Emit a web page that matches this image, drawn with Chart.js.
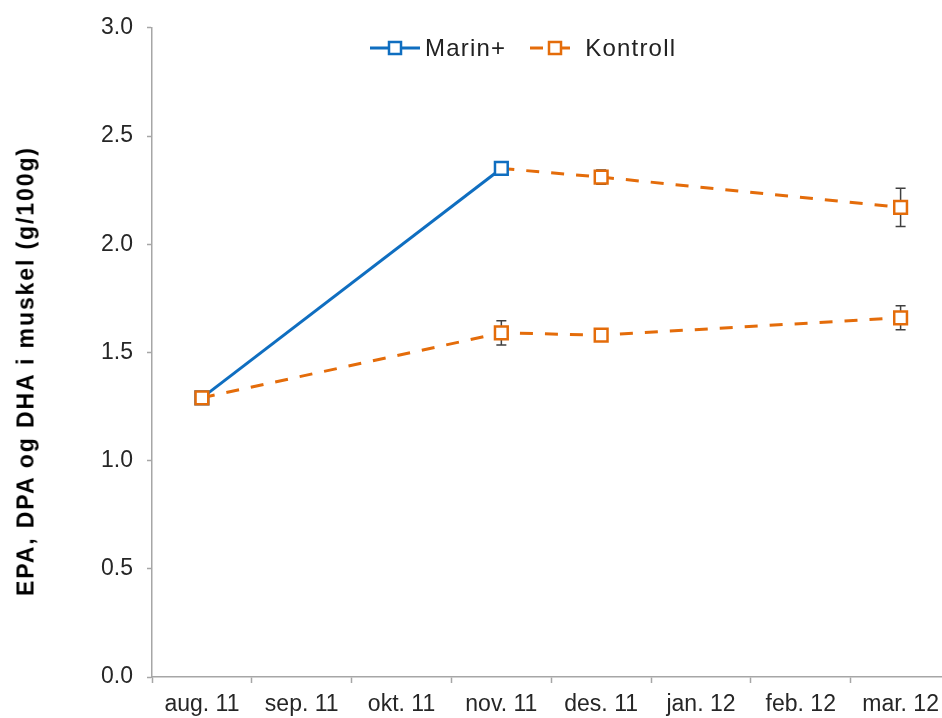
<!DOCTYPE html>
<html>
<head>
<meta charset="utf-8">
<script src="https://cdn.jsdelivr.net/npm/chart.js@4.4.0/dist/chart.umd.min.js"></script>
<style>
    html, body { margin: 0; padding: 0; background: #fff; overflow: hidden; }
    #wrap { position: relative; width: 962px; height: 718px; }
    #ytitle {
        position: absolute; left: 26px; top: 371px;
        transform: translate(-50%, -50%) rotate(-90deg);
        white-space: nowrap; color: #000;
        font: bold 23px "Liberation Sans", Arial, sans-serif; letter-spacing: 1.9px;
    }
    #legend {
        position: absolute; left: 370px; top: 34px; display: flex; align-items: center;
        font: 24px "Liberation Sans", Arial, sans-serif; color: #222; letter-spacing: 1.2px;
    }
    .item { display: flex; align-items: center; margin-right: 24px; }
    .item svg { margin-right: 5px; }
</style>
</head>
<body>
<div id="wrap">
    <canvas id="grafico"></canvas>
    <div id="ytitle">EPA, DPA og DHA i muskel (g/100g)</div>
    <div id="legend"></div>
</div>
<script>
// Datos (x = índice del mes)
const meses = ['aug. 11', 'sep. 11', 'okt. 11', 'nov. 11', 'des. 11', 'jan. 12', 'feb. 12', 'mar. 12'];
const seriesNombres = ['Marin+', 'Kontroll'];

const marinX = [0, 3];
const marinY = [1.29, 2.35];

// Marin+ tras cambiar a fôr de control (línea naranja desde nov.)
const etterX = [3, 4, 7];
const etterY = [2.35, 2.31, 2.17];
const etterErr = [0, 0.033, 0.088];

const kontrollX = [0, 3, 4, 7];
const kontrollY = [1.29, 1.59, 1.58, 1.66];
const kontrollErr = [0, 0.056, 0, 0.055];

const yTicks = [0, 0.5, 1.0, 1.5, 2.0, 2.5, 3.0];

const AZUL = '#0F6EC0';
const NARANJA = '#E46C0A';
const GRIS = '#A6A6A6';
const FUENTE = '"Liberation Sans", Arial, sans-serif';

function puntos(xs, ys) { return xs.map((x, i) => ({ x, y: ys[i] })); }
function esEntero(v) { return Math.abs(v - Math.round(v)) < 1e-6; }

const errorBars = {
    id: 'errorBars',
    beforeDatasetsDraw(chart) {
        const { ctx, scales: { x, y } } = chart;
        ctx.save();
        ctx.strokeStyle = '#404040';
        ctx.lineWidth = 1.5;
        chart.data.datasets.forEach(ds => {
            if (!ds.errores) return;
            ds.data.forEach((p, i) => {
                const e = ds.errores[i];
                if (!e) return;
                const px = x.getPixelForValue(p.x);
                const top = y.getPixelForValue(p.y + e);
                const bot = y.getPixelForValue(p.y - e);
                ctx.beginPath();
                ctx.moveTo(px, top); ctx.lineTo(px, bot);
                ctx.moveTo(px - 5, top); ctx.lineTo(px + 5, top);
                ctx.moveTo(px - 5, bot); ctx.lineTo(px + 5, bot);
                ctx.stroke();
            });
        });
        ctx.restore();
    }
};

const marcador = { pointStyle: 'rect', pointRadius: 9, pointBorderWidth: 2.5, pointBackgroundColor: '#fff', borderWidth: 3 };

new Chart(document.getElementById('grafico'), {
    type: 'line',
    data: {
        datasets: [
            { label: seriesNombres[0], data: puntos(marinX, marinY), borderColor: AZUL, pointBorderColor: AZUL, order: 1, ...marcador },
            { label: seriesNombres[1], data: puntos(kontrollX, kontrollY), errores: kontrollErr, borderColor: NARANJA, pointBorderColor: NARANJA,
              borderDash: [13, 12], order: 0, ...marcador },
            { label: '', data: puntos(etterX, etterY), errores: etterErr, borderColor: NARANJA, pointBorderColor: NARANJA,
              borderDash: [13, 12], order: 2, ...marcador, pointRadius: [0, 9, 9] }
        ]
    },
    options: {
        responsive: true,
        maintainAspectRatio: false,
        animation: false,
        events: [],
        layout: { padding: { top: 25, right: 8, left: 0, bottom: 0 } },
        plugins: { legend: { display: false }, tooltip: { enabled: false } },
        scales: {
            x: {
                type: 'linear', min: -0.5, max: 7.5,
                afterFit: s => { s.height = 41; },
                border: { color: GRIS, width: 1.5 },
                grid: {
                    drawOnChartArea: false, tickLength: 6, tickWidth: 1.5,
                    tickColor: c => (c.tick && esEntero(c.tick.value)) ? 'rgba(0,0,0,0)' : GRIS
                },
                ticks: {
                    stepSize: 0.5, autoSkip: false, maxRotation: 0, minRotation: 0, padding: 8,
                    color: '#262626', font: { family: FUENTE, size: 23 },
                    callback: v => esEntero(v) ? meses[Math.round(v)] : ''
                }
            },
            y: {
                min: 0, max: 3,
                afterFit: s => { s.width = 152; },
                afterBuildTicks: s => { s.ticks = yTicks.map(v => ({ value: v })); },
                border: { color: GRIS, width: 1.5 },
                grid: { drawOnChartArea: false, tickLength: 5, tickWidth: 1.5, tickColor: GRIS },
                ticks: { padding: 14, color: '#262626', font: { family: FUENTE, size: 23 }, callback: v => v.toFixed(1) }
            }
        }
    },
    plugins: [errorBars]
});

// Leyenda
const legend = document.getElementById('legend');
const simbolos = [
    `<line x1="0" y1="8" x2="50" y2="8" stroke="${AZUL}" stroke-width="3"/>
     <rect x="19" y="2" width="12" height="12" fill="#fff" stroke="${AZUL}" stroke-width="2.5"/>`,
    `<line x1="0" y1="8" x2="13" y2="8" stroke="${NARANJA}" stroke-width="3"/>
     <line x1="30" y1="8" x2="40" y2="8" stroke="${NARANJA}" stroke-width="3"/>
     <rect x="19" y="2" width="12" height="12" fill="#fff" stroke="${NARANJA}" stroke-width="2.5"/>`
];
seriesNombres.forEach((n, i) => {
    const d = document.createElement('div');
    d.className = 'item';
    d.innerHTML = `<svg width="50" height="16">${simbolos[i]}</svg><span>${n}</span>`;
    legend.appendChild(d);
});
</script>
</body>
</html>
